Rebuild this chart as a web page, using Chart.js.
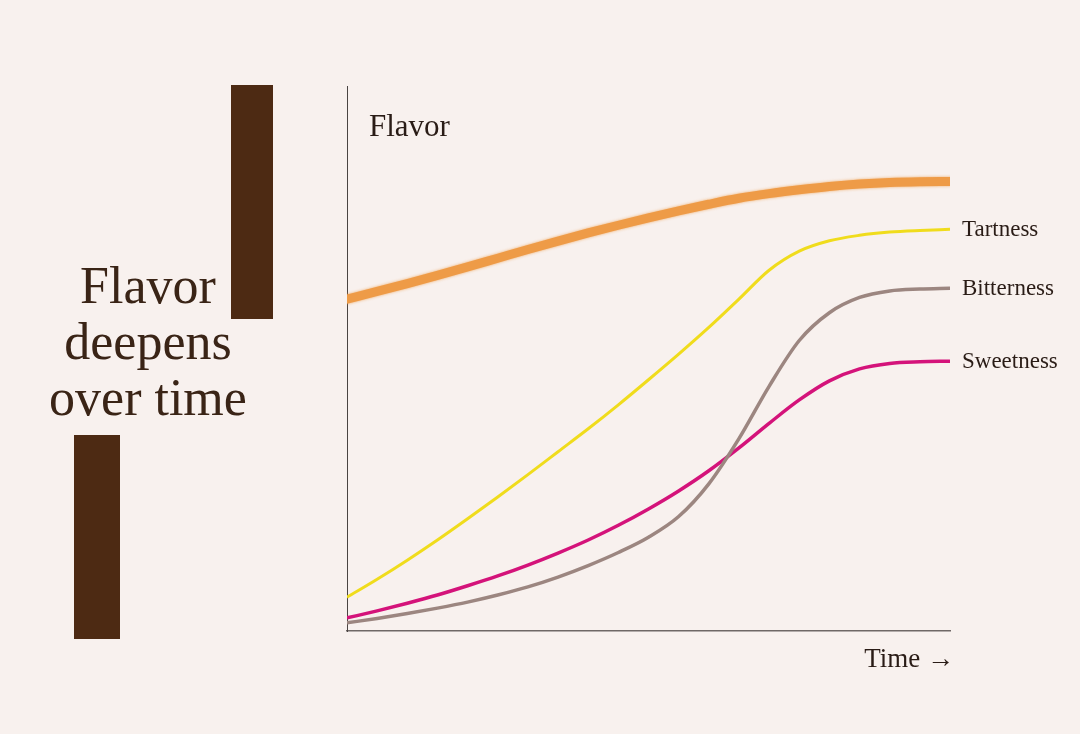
<!DOCTYPE html>
<html>
<head>
<meta charset="utf-8">
<script src="https://cdn.jsdelivr.net/npm/chart.js@4"></script>
<style>
  html, body { margin: 0; padding: 0; background: #f8f1ee; }
  #wrap { position: relative; width: 1080px; height: 734px; overflow: hidden; background: #f8f1ee; }
  #c { position: absolute; left: 0; top: 0; }
  .block { position: absolute; background: #4d2a13; }
  #title {
    position: absolute; left: 0; width: 296px; top: 258px;
    font-family: "Liberation Serif", "DejaVu Serif", serif;
    font-size: 52px; line-height: 56px; color: #3a2416; text-align: center;
  }
</style>
</head>
<body>
<div id="wrap">
  <div class="block" style="left:231px; top:85px; width:42px; height:234px;"></div>
  <div class="block" style="left:74px; top:435px; width:46px; height:204px;"></div>
  <div id="title">Flavor<br>deepens<br>over time</div>
  <canvas id="c" width="1080" height="734"></canvas>
</div>
<script>
const timeSteps = [0,5,10,15,20,25,30,35,40,45,50,55,60,65,70,75,80,85,90,95,100];
const baseFlavor = [60.9,62.3,63.75,65.25,66.8,68.4,70.0,71.55,73.05,74.45,75.8,77.1,78.3,79.4,80.25,80.95,81.55,82.0,82.3,82.45,82.5];
const tartness   = [6.2,9.5,13.0,16.7,20.6,24.6,28.7,32.9,37.1,41.5,46.1,50.8,55.7,60.9,66.2,69.7,71.6,72.6,73.2,73.5,73.7];
const bitterness = [1.5,2.3,3.2,4.2,5.3,6.6,8.1,9.9,12.0,14.4,17.2,21.0,27.0,35.3,44.9,53.3,58.4,61.2,62.4,62.75,62.9];
const sweetness  = [2.4,3.7,5.1,6.6,8.3,10.1,12.1,14.3,16.7,19.4,22.4,25.7,29.4,33.6,38.1,42.4,45.9,48.1,49.1,49.4,49.5];
const seriesLabels = ["", "Tartness", "Bitterness", "Sweetness"];
const yAxisLabel = "Flavor";
const xAxisLabel = "Time \u2192";

function pts(arr) { return arr.map((v, i) => ({ x: timeSteps[i], y: v })); }

const serif = '"Liberation Serif", "DejaVu Serif", serif';

const labelPlugin = {
  id: 'labels',
  beforeDatasetDraw(chart, args) {
    if (args.index === 0) {
      const ctx = chart.ctx;
      ctx.save();
      ctx.shadowColor = 'rgba(238,154,69,0.8)';
      ctx.shadowBlur = 3;
    }
  },
  afterDatasetDraw(chart, args) {
    if (args.index === 0) chart.ctx.restore();
  },
  afterDatasetsDraw(chart) {
    const ctx = chart.ctx;
    const area = chart.chartArea;
    ctx.save();
    ctx.fillStyle = '#2a1c16';
    ctx.textBaseline = 'middle';
    ctx.textAlign = 'left';
    ctx.font = '23px ' + serif;
    chart.data.datasets.forEach((ds, i) => {
      const lbl = seriesLabels[i];
      if (!lbl) return;
      const meta = chart.getDatasetMeta(i);
      const last = meta.data[meta.data.length - 1];
      ctx.fillText(lbl, last.x + 12, last.y + 1);
    });
    ctx.font = '31px ' + serif;
    ctx.textBaseline = 'alphabetic';
    ctx.fillText(yAxisLabel, area.left + 22, area.top + 50);
    ctx.font = '27px ' + serif;
    ctx.textAlign = 'right';
    ctx.fillText(xAxisLabel, area.right + 4, area.bottom + 36);
    ctx.restore();
  }
};

new Chart(document.getElementById('c'), {
  type: 'line',
  data: {
    datasets: [
      { data: pts(baseFlavor), borderColor: '#ee9b47', borderWidth: 9, borderCapStyle: 'round' },
      { data: pts(tartness), borderColor: '#f0dc1c', borderWidth: 3 },
      { data: pts(bitterness), borderColor: '#9c8680', borderWidth: 3.5 },
      { data: pts(sweetness), borderColor: '#d4137a', borderWidth: 3.5 }
    ]
  },
  options: {
    responsive: false,
    animation: false,
    devicePixelRatio: 1,
    layout: { padding: { left: 347, right: 130, top: 86, bottom: 103 } },
    elements: {
      point: { radius: 0 },
      line: { cubicInterpolationMode: 'monotone', fill: false }
    },
    plugins: { legend: { display: false }, tooltip: { enabled: false }, title: { display: false } },
    scales: {
      x: {
        type: 'linear', min: 0, max: 100,
        ticks: { display: false },
        grid: { display: false },
        border: { display: true, color: '#6f6866', width: 1.5 },
        afterFit(s) { s.height = 0; }
      },
      y: {
        type: 'linear', min: 0, max: 100,
        ticks: { display: false },
        grid: { display: false },
        border: { display: true, color: '#4a4442', width: 1 },
        afterFit(s) { s.width = 0; }
      }
    }
  },
  plugins: [labelPlugin]
});
</script>
</body>
</html>
